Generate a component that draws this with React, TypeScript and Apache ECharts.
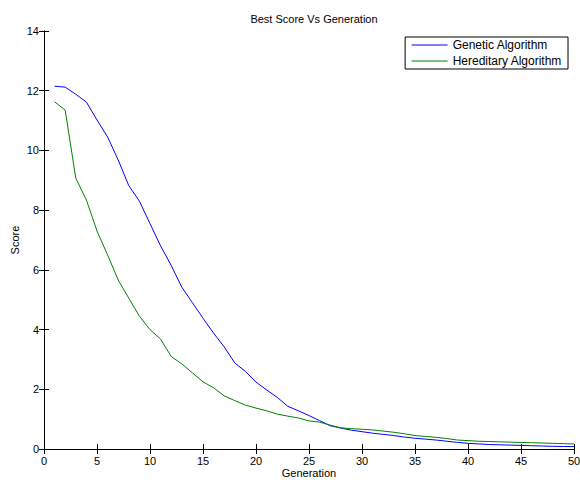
import React, { useEffect, useRef } from "react";
import * as echarts from "echarts";

const generations = Array.from({ length: 50 }, (_, i) => i + 1);

const geneticScores = [
  12.15, 12.12, 11.88, 11.62, 11.02, 10.45, 9.68, 8.82, 8.3, 7.55,
  6.8, 6.15, 5.42, 4.9, 4.38, 3.88, 3.42, 2.88, 2.6, 2.24,
  1.98, 1.73, 1.43, 1.28, 1.12, 0.95, 0.78, 0.7, 0.63, 0.58,
  0.53, 0.49, 0.45, 0.4, 0.36, 0.33, 0.3, 0.26, 0.22, 0.19,
  0.17, 0.15, 0.14, 0.13, 0.12, 0.11, 0.1, 0.09, 0.085, 0.08,
];

const hereditaryScores = [
  11.63, 11.35, 9.07, 8.34, 7.3, 6.5, 5.66, 5.05, 4.45, 4.0,
  3.68, 3.1, 2.85, 2.55, 2.25, 2.05, 1.78, 1.62, 1.47, 1.37,
  1.28, 1.17, 1.1, 1.04, 0.94, 0.9, 0.8, 0.71, 0.68, 0.66,
  0.64, 0.6, 0.56, 0.51, 0.45, 0.42, 0.39, 0.35, 0.3, 0.28,
  0.26, 0.25, 0.24, 0.23, 0.22, 0.21, 0.2, 0.19, 0.18, 0.17,
];

const seriesNames = ["Genetic Algorithm", "Hereditary Algorithm"];

const FONT = "Liberation Sans, Arial, Helvetica, sans-serif";

export default function App() {
  const ref = useRef<HTMLDivElement>(null);
  useEffect(() => {
    if (!ref.current) return;
    const chart = echarts.init(ref.current, undefined, { renderer: "svg" });
    const axisLine = { show: true, lineStyle: { color: "#000", width: 1 } };
    const tick = { show: true, inside: true, length: 5, lineStyle: { color: "#000" } };
    const label = { color: "#000", fontSize: 11, fontFamily: FONT };
    chart.setOption({
      animation: false,
      backgroundColor: "#fff",
      title: {
        text: "Best Score Vs Generation",
        left: 309,
        top: 8,
        textAlign: "center",
        textStyle: { fontSize: 11, fontWeight: "normal", color: "#000", fontFamily: FONT },
      },
      grid: {
        left: 44,
        right: 6,
        top: 31,
        bottom: 31,
        containLabel: false,
        outerBoundsMode: "none",
      },
      legend: {
        data: seriesNames,
        orient: "vertical",
        right: 12,
        top: 37,
        itemWidth: 36,
        itemHeight: 12,
        itemGap: 4,
        padding: [2, 6, 2, 6],
        borderColor: "#000",
        borderWidth: 1,
        backgroundColor: "#fff",
        itemStyle: { opacity: 0, borderWidth: 0 },
        lineStyle: { width: 1 },
        textStyle: { fontSize: 12, color: "#000", fontFamily: FONT },
      },
      xAxis: [
        {
          type: "value",
          min: 0,
          max: 50,
          interval: 5,
          name: "Generation",
          nameLocation: "middle",
          nameGap: 18,
          nameMoveOverlap: false,
          nameTextStyle: { fontSize: 11, color: "#000", fontFamily: FONT },
          axisLine,
          axisTick: tick,
          axisLabel: { ...label, margin: 6 },
          splitLine: { show: false },
        },
        {
          type: "value",
          position: "top",
          min: 0,
          max: 50,
          interval: 5,
          axisLine,
          axisTick: tick,
          axisLabel: { show: false },
          splitLine: { show: false },
        },
      ],
      yAxis: [
        {
          type: "value",
          min: 0,
          max: 14,
          interval: 2,
          name: "Score",
          nameLocation: "middle",
          nameGap: 24,
          nameMoveOverlap: false,
          nameRotate: 90,
          nameTextStyle: { fontSize: 11, color: "#000", fontFamily: FONT },
          axisLine,
          axisTick: tick,
          axisLabel: { ...label, margin: 5 },
          splitLine: { show: false },
        },
        {
          type: "value",
          position: "right",
          min: 0,
          max: 14,
          interval: 2,
          axisLine,
          axisTick: tick,
          axisLabel: { show: false },
          splitLine: { show: false },
        },
      ],
      series: [
        {
          name: seriesNames[0],
          type: "line",
          symbol: "none",
          data: generations.map((g, i) => [g, geneticScores[i]]),
          lineStyle: { color: "#0000ff", width: 1 },
          itemStyle: { color: "#0000ff" },
        },
        {
          name: seriesNames[1],
          type: "line",
          symbol: "none",
          data: generations.map((g, i) => [g, hereditaryScores[i]]),
          lineStyle: { color: "#008000", width: 1 },
          itemStyle: { color: "#008000" },
        },
      ],
    });
    return () => chart.dispose();
  }, []);
  return (
    <div
      ref={ref}
      style={{ position: "fixed", left: 0, top: 0, width: 580, height: 480 }}
    />
  );
}
